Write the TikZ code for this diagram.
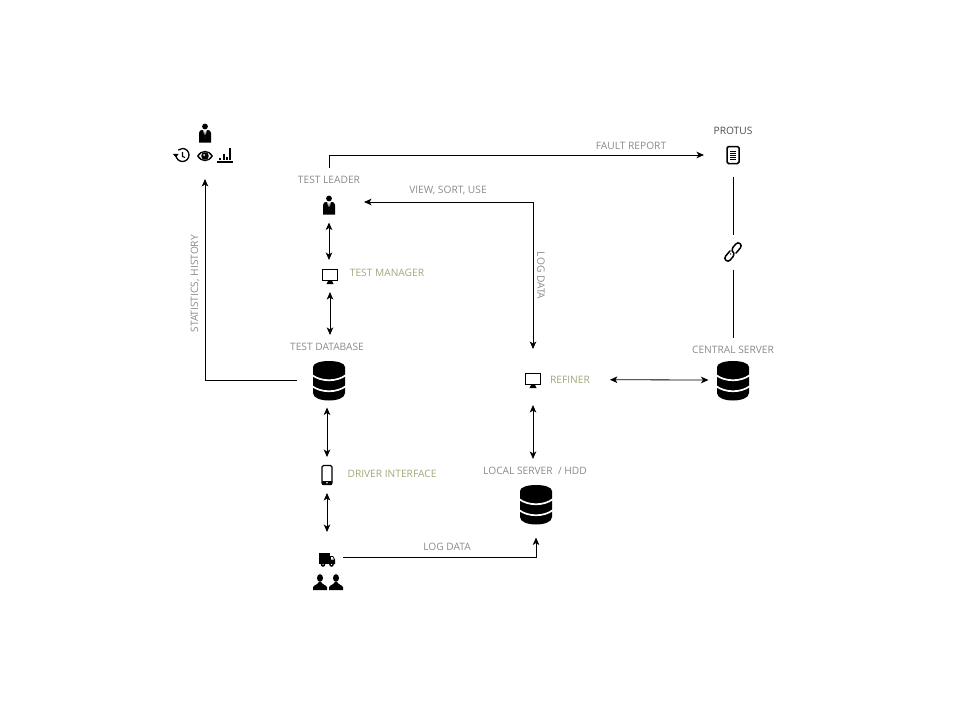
\documentclass[tikz,border=0pt]{standalone}
\usepackage{fontspec}
\usetikzlibrary{arrows.meta}
\setmainfont{Open Sans}
\definecolor{labelgray}{HTML}{8A8A8A}
\definecolor{appgreen}{HTML}{9DAA7A}
\tikzset{
	>={Stealth[length=7.5pt, width=6.5pt, inset=2pt]},
	link/.style={line width=0.8pt},
	icon/.style={inner sep=0pt, outer sep=8pt},
	caption/.style={inner sep=0pt, outer sep=8pt, yshift=-0.7pt, text=labelgray, font=\fontsize{10.2}{12}\selectfont},
	appname/.style={caption, text=appgreen},
	dbpic/.pic={
		\fill[black] (-16,-13) .. controls (-16,-21) and (16,-21) .. (16,-13) -- (16,13) .. controls (16,23) and (-16,23) .. (-16,13) -- cycle;
		\draw[white, line width=1.7pt] (-17,-5) .. controls (-8,2) and (8,2) .. (17,-5);
		\draw[white, line width=1.7pt] (-17,6) .. controls (-8,13) and (8,13) .. (17,6);
	},
	manpic/.pic={
		\fill[black] (0,-6.5) circle (2.9);
		\fill[black] (-6,9.5) -- (-6,0) .. controls (-6,-2.5) and (-4,-3) .. (-2.5,-3) -- (2.5,-3) .. controls (4,-3) and (6,-2.5) .. (6,0) -- (6,9.5) -- cycle;
		\fill[white] (-1.8,-3) -- (0,5) -- (1.8,-3) -- cycle;
		\fill[black] (0,-2) -- (-0.9,3) -- (0,7) -- (0.9,3) -- cycle;
	},
	monitorpic/.pic={
		\draw[black, line width=0.9pt] (-7.5,-7) rectangle (7.5,4);
		\fill[black] (-7.5,4) rectangle (7.5,5.2);
		\fill[black] (-2,5) -- (2,5) -- (3.5,8) -- (-3.5,8) -- cycle;
	},
	phonepic/.pic={
		\draw[black, line width=1.2pt, rounded corners=1.5pt] (-5,-9.5) rectangle (5,9.5);
		\fill[black] (-5,6) rectangle (5,9.5);
		\fill[white] (0,7.7) circle (0.8);
	},
	truckpic/.pic={
		\fill[black] (-8,-6.5) rectangle (2.5,5);
		\fill[black] (3.2,-3) -- (6,-3) -- (8,0.5) -- (8,5) -- (3.2,5) -- cycle;
		\fill[white] (4.2,-2) -- (5.6,-2) -- (6.8,0.5) -- (4.2,0.5) -- cycle;
		\fill[black] (-4,5.5) circle (2.3) (4.5,5.5) circle (2.3);
		\fill[white] (-4,5.5) circle (0.6) (4.5,5.5) circle (0.6);
	},
	userpic/.pic={
		\fill[black] (0,-4) ellipse (3 and 3.8);
		\fill[black] (-7,8) -- (-7,5.5) .. controls (-7,3) and (-2.2,3) .. (-1.3,0) -- (1.3,0) .. controls (2.2,3) and (7,3) .. (7,5.5) -- (7,8) -- cycle;
	},
	historypic/.pic={
		\draw[black, line width=1.3pt] (-6,-1) arc (180:-130:6.5);
		\fill[black] (-9.3,-2.2) -- (-3.3,-2.2) -- (-6,1.5) -- cycle;
		\draw[black, line width=1.1pt] (0.5,-4) -- (0.5,0.5) -- (3,1.5);
	},
	eyepic/.pic={
		\fill[black] (-8,0) .. controls (-4,-7) and (4,-7) .. (8,0) .. controls (4,7) and (-4,7) .. (-8,0) -- cycle;
		\fill[white] (-6,0) .. controls (-3,-5) and (3,-5) .. (6,0) .. controls (3,5) and (-3,5) .. (-6,0) -- cycle;
		\fill[black] (0,0) circle (3.8);
		\fill[white] (-1,-1) circle (1);
	},
	chartpic/.pic={
		\fill[black] (-8,6.2) rectangle (8,7.8);
		\fill[black] (-6,2.5) rectangle (-4,5.2);
		\fill[black] (-2.5,-1) rectangle (-0.5,5.2);
		\fill[black] (1,2) rectangle (3,5.2);
		\fill[black] (4.3,-7) rectangle (6.3,5.2);
	},
	docpic/.pic={
		\draw[black, line width=1.5pt, rounded corners=1.5pt] (-6,-8.5) rectangle (6,8.5);
		\foreach \y in {-4,-2,0,2,4}{
			\draw[black, line width=0.9pt] (-3,\y) -- (3,\y);
		}
	},
	chainpic/.pic={
		\begin{scope}[rotate=50, line cap=round]
			\draw[black, line width=1.5pt] (-1,-3) -- (-8,-3) arc (270:90:3) -- (-3,3);
			\draw[black, line width=1.5pt] (-3,-0.5) -- (-3,-0.5);
			\draw[black, line width=1.5pt] (1,3) -- (8,3) arc (90:-90:3) -- (3,-3);
			\draw[black, line width=1.5pt] (-3,3) .. controls (0,3) and (0,0) .. (0,0);
			\draw[black, line width=1.5pt] (3,-3) .. controls (0,-3) and (0,0) .. (0,0);
		\end{scope}
	},
}
\begin{document}
\begin{tikzpicture}[x=1pt, y=-1pt]
	\useasboundingbox (0,0) rectangle (960,720);
	%icons
	\node[icon, minimum width=12pt, minimum height=19pt] (bossicon) at (205,133) {};
	\node[icon, minimum width=16pt, minimum height=14pt] (historyicon) at (182,156) {};
	\node[icon, minimum width=16pt, minimum height=14pt] (eyeicon) at (205,156) {};
	\node[icon, minimum width=16pt, minimum height=14pt] (charticon) at (225,155) {};
	\node[icon, minimum width=12pt, minimum height=19pt] (leadericon) at (329,205) {};
	\node[icon, minimum width=16pt, minimum height=16pt] (managericon) at (330,276) {};
	\node[icon, minimum width=33pt, minimum height=39pt] (testdbicon) at (329,380) {};
	\node[icon, minimum width=11pt, minimum height=20pt] (phoneicon) at (327,475) {};
	\node[icon, minimum width=16pt, minimum height=16pt] (truckicon) at (327,557) {};
	\node[icon, minimum width=16pt, minimum height=16pt] (refinericon) at (533,380) {};
	\node[icon, minimum width=33pt, minimum height=39pt] (localicon) at (536,504) {};
	\node[icon, minimum width=33pt, minimum height=39pt] (centralicon) at (733,380) {};
	\node[icon, minimum width=14pt, minimum height=19pt] (protusicon) at (733,155) {};
	\node[icon, minimum width=14pt, minimum height=19pt] (chainicon) at (733,252) {};
	\pic at (bossicon) {manpic};
	\pic at (historyicon) {historypic};
	\pic at (eyeicon) {eyepic};
	\pic at (charticon) {chartpic};
	\pic at (leadericon) {manpic};
	\pic at (managericon) {monitorpic};
	\pic at (testdbicon) {dbpic};
	\pic at (phoneicon) {phonepic};
	\pic at (327,559) {truckpic};
	\pic at (320,582) {userpic};
	\pic at (336,582) {userpic};
	\pic at (refinericon) {monitorpic};
	\pic at (localicon) {dbpic};
	\pic at (centralicon) {dbpic};
	\pic at (protusicon) {docpic};
	\pic at (chainicon) {chainpic};
	
	%labels
	\node[caption] (leaderlabel) at (329,179) {TEST LEADER};
	\node[caption] (testdblabel) at (327,346) {TEST DATABASE};
	\node[caption] (locallabel) at (535,470) {LOCAL SERVER\ \ / HDD};
	\node[caption] (centrallabel) at (733,349) {CENTRAL SERVER};
	\node[caption, text=black!70] (protuslabel) at (733,130) {PROTUS};
	\node[appname] (managerlabel) at (387,272) {TEST MANAGER};
	\node[appname] (driverlabel) at (392,473) {DRIVER INTERFACE};
	\node[appname] (refinerlabel) at (570,379) {REFINER};
	\node[caption] (faultlabel) at (631,145) {FAULT REPORT};
	\node[caption] (viewlabel) at (448,190) {VIEW, SORT, USE};
	\node[caption, rotate=-90] (logrefinerlabel) at (541,275) {LOG DATA};
	\node[caption] (loglocallabel) at (447,546) {LOG DATA};
	\node[caption, rotate=90] (statslabel) at (195,283) {STATISTICS, HISTORY};
	
	%connectors
	\coordinate (viewport) at (364,202);
	\draw[link, ->, shorten <=8pt, shorten >=8pt] (testdbicon.west) -| (eyeicon.south);
	\draw[link, ->, shorten >=14pt] (leaderlabel.north) |- (protusicon.west);
	\draw[link, <->, shorten >=15pt] (viewport) -| (refinericon.north);
	\draw[link, <->] (leadericon) -- (leadericon |- managericon.north);
	\draw[link, <->] (managericon) -- (managericon |- testdblabel.north);
	\draw[link, <->] (phoneicon |- testdbicon.south) -- (phoneicon);
	\draw[link, <->, shorten >=9pt] (phoneicon) -- (truckicon);
	\draw[link, <->, shorten <=9pt] (refinericon) -- (refinericon |- locallabel.north);
	\draw[link, <->, shorten <=12pt] (refinerlabel.east) -- (centralicon.west);
	\draw[link, ->, shorten >=6pt] (truckicon.east) -| (localicon.south);
	\draw[link, shorten <=4pt] (protusicon) -- (chainicon);
	\draw[link] (chainicon) -- (centrallabel);
\end{tikzpicture}
\end{document}
